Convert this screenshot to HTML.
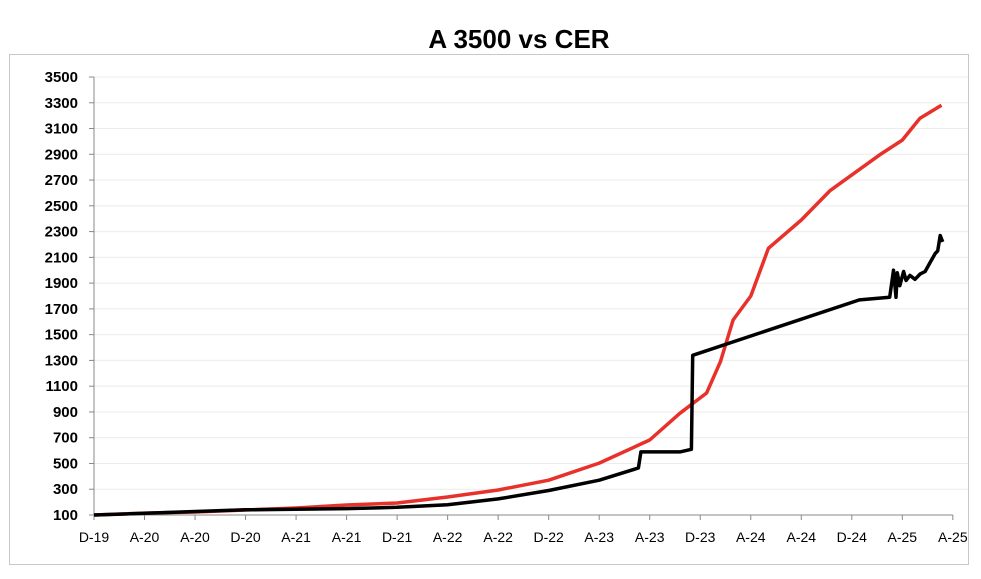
<!DOCTYPE html>
<html><head><meta charset="utf-8"><style>
body{margin:0;background:#fff;width:981px;height:574px;overflow:hidden;font-family:"Liberation Sans",sans-serif}
</style></head><body>
<svg id="chart" width="981" height="574" xmlns="http://www.w3.org/2000/svg">
<text x="519" y="48" text-anchor="middle" font-size="26" font-weight="bold" font-family="Liberation Sans, sans-serif">A 3500 vs CER</text>
<rect x="9.5" y="54.5" width="959" height="510" fill="none" stroke="#c8c8c8"/>
<g id="grid"></g><g id="axes"></g><g id="series"></g>
</svg>
<script>
const yTicks=[100,300,500,700,900,1100,1300,1500,1700,1900,2100,2300,2500,2700,2900,3100,3300,3500];
const xLabels=["D-19","A-20","A-20","D-20","A-21","A-21","D-21","A-22","A-22","D-22","A-23","A-23","D-23","A-24","A-24","D-24","A-25","A-25"];
const cerMonths=[0,4,8,12,16,20,24,28,32,36,40,44,46.4,48.5,49.6,50.6,52,53.4,56,58.3,60,62.2,64,65.4,67.1];
const cerValues=[100,115,123,139,154,178,193,240,294,370,503,682,890,1047,1290,1614,1800,2170,2390,2620,2740,2895,3010,3180,3280];
const a3500Months=[0,12,20,24,28,32,36,40,43.1,43.3,46.4,47.3,47.4,60.6,63,63.3,63.5,63.6,63.8,64.1,64.3,64.6,65.0,65.4,65.8,66.2,66.6,66.8,67.0,67.2];
const a3500Values=[100,140,150,160,180,225,290,370,465,590,590,610,1340,1770,1790,2000,1790,1980,1880,1990,1920,1960,1930,1970,1990,2060,2130,2150,2270,2220];
const NS="http://www.w3.org/2000/svg";
const x0=94,pxPerMonth=12.63,yBase=515,yTop=77,vMin=100,vMax=3500;
const X=m=>x0+m*pxPerMonth;
const Y=v=>yBase-(v-vMin)/(vMax-vMin)*(yBase-yTop);
function mk(tag,attrs,parent){const e=document.createElementNS(NS,tag);for(const k in attrs)e.setAttribute(k,attrs[k]);parent.appendChild(e);return e;}
const grid=document.getElementById('grid'),axes=document.getElementById('axes'),series=document.getElementById('series');
const xEnd=X(68);
yTicks.forEach(v=>{
  if(v>vMin){const g=mk('line',{x1:x0,x2:968,y1:Y(v),y2:Y(v),stroke:'#ececec','stroke-width':1},grid);
  
  }
  const t=mk('line',{x1:x0-5,x2:x0,y1:Y(v),y2:Y(v),stroke:'#888'},axes);
  
  
  const l=mk('text',{x:78,y:Y(v)+5,'text-anchor':'end','font-size':15,'font-weight':'bold'},axes);
  
  
  l.textContent=v;
});
const ya=mk('line',{x1:x0,x2:x0,y1:yTop,y2:yBase,stroke:'#888'},axes);


const xa=mk('line',{x1:x0,x2:xEnd,y1:yBase,y2:yBase,stroke:'#888'},axes);


xLabels.forEach((s,i)=>{
  const xx=X(i*4);
  const t=mk('line',{x1:xx,x2:xx,y1:yBase,y2:yBase+5,stroke:'#888'},axes);
  
  
  const l=mk('text',{x:xx,y:542,'text-anchor':'middle','font-size':14},axes);
  
  
  l.textContent=s;
});
function path(ms,vs){return ms.map((m,i)=>(i?'L':'M')+X(m).toFixed(1)+','+Y(vs[i]).toFixed(1)).join(' ');}
const cer=mk('path',{d:path(cerMonths,cerValues),fill:'none',stroke:'#e8312a','stroke-width':3.5,'stroke-linejoin':'round'},series);


const a=mk('path',{d:path(a3500Months,a3500Values),fill:'none',stroke:'#000','stroke-width':3.5,'stroke-linejoin':'round'},series);


</script>
</body></html>
